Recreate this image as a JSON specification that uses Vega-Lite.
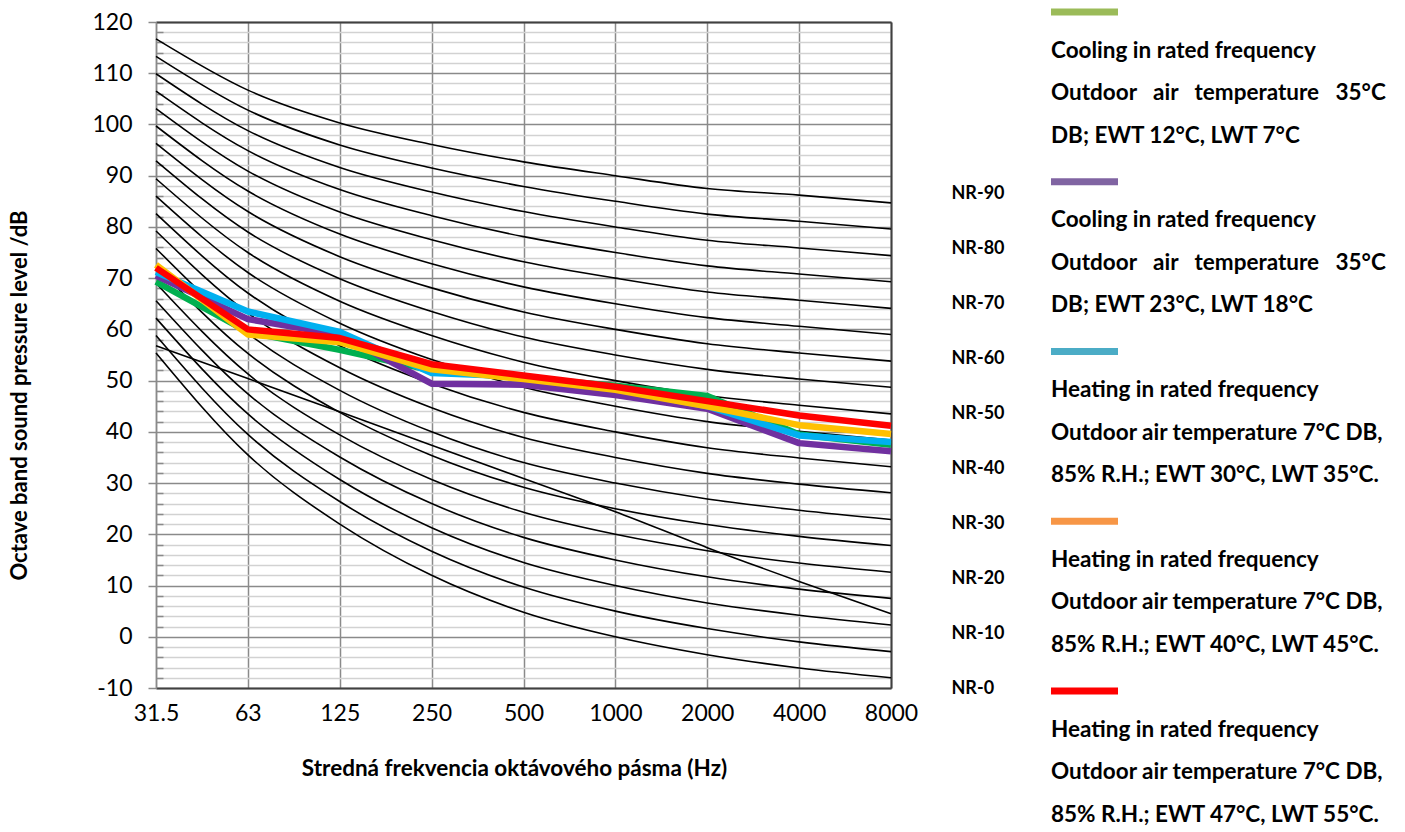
{
  "$schema": "https://vega.github.io/schema/vega-lite/v6.json",
  "background": "white",
  "padding": {"left": 8, "top": 8, "right": 0, "bottom": 0},
  "config": {"view": {"stroke": null}, "font": "Lato"},
  "spacing": 42,
  "resolve": {"scale": {"color": "independent"}},
  "datasets": {
    "nr": [
      {"s":"NR-0","f":"31.5","v":55.4},{"s":"NR-0","f":"63","v":35.5},{"s":"NR-0","f":"125","v":22.0},{"s":"NR-0","f":"250","v":12.0},{"s":"NR-0","f":"500","v":4.8},{"s":"NR-0","f":"1000","v":0},{"s":"NR-0","f":"2000","v":-3.5},{"s":"NR-0","f":"4000","v":-6.1},{"s":"NR-0","f":"8000","v":-8.0},
      {"s":"NR-5","f":"31.5","v":58.8},{"s":"NR-5","f":"63","v":39.5},{"s":"NR-5","f":"125","v":26.4},{"s":"NR-5","f":"250","v":16.7},{"s":"NR-5","f":"500","v":9.7},{"s":"NR-5","f":"1000","v":5},{"s":"NR-5","f":"2000","v":1.6},{"s":"NR-5","f":"4000","v":-1.0},{"s":"NR-5","f":"8000","v":-2.9},
      {"s":"NR-10","f":"31.5","v":62.2},{"s":"NR-10","f":"63","v":43.5},{"s":"NR-10","f":"125","v":30.7},{"s":"NR-10","f":"250","v":21.3},{"s":"NR-10","f":"500","v":14.5},{"s":"NR-10","f":"1000","v":10},{"s":"NR-10","f":"2000","v":6.6},{"s":"NR-10","f":"4000","v":4.2},{"s":"NR-10","f":"8000","v":2.3},
      {"s":"NR-15","f":"31.5","v":65.6},{"s":"NR-15","f":"63","v":47.4},{"s":"NR-15","f":"125","v":35.1},{"s":"NR-15","f":"250","v":26.0},{"s":"NR-15","f":"500","v":19.4},{"s":"NR-15","f":"1000","v":15},{"s":"NR-15","f":"2000","v":11.7},{"s":"NR-15","f":"4000","v":9.3},{"s":"NR-15","f":"8000","v":7.5},
      {"s":"NR-20","f":"31.5","v":69.0},{"s":"NR-20","f":"63","v":51.3},{"s":"NR-20","f":"125","v":39.4},{"s":"NR-20","f":"250","v":30.7},{"s":"NR-20","f":"500","v":24.3},{"s":"NR-20","f":"1000","v":20},{"s":"NR-20","f":"2000","v":16.8},{"s":"NR-20","f":"4000","v":14.4},{"s":"NR-20","f":"8000","v":12.6},
      {"s":"NR-25","f":"31.5","v":72.4},{"s":"NR-25","f":"63","v":55.3},{"s":"NR-25","f":"125","v":43.8},{"s":"NR-25","f":"250","v":35.4},{"s":"NR-25","f":"500","v":29.2},{"s":"NR-25","f":"1000","v":25},{"s":"NR-25","f":"2000","v":21.9},{"s":"NR-25","f":"4000","v":19.6},{"s":"NR-25","f":"8000","v":17.8},
      {"s":"NR-30","f":"31.5","v":75.8},{"s":"NR-30","f":"63","v":59.2},{"s":"NR-30","f":"125","v":48.1},{"s":"NR-30","f":"250","v":40.0},{"s":"NR-30","f":"500","v":34.0},{"s":"NR-30","f":"1000","v":30},{"s":"NR-30","f":"2000","v":26.9},{"s":"NR-30","f":"4000","v":24.7},{"s":"NR-30","f":"8000","v":22.9},
      {"s":"NR-35","f":"31.5","v":79.2},{"s":"NR-35","f":"63","v":63.2},{"s":"NR-35","f":"125","v":52.5},{"s":"NR-35","f":"250","v":44.7},{"s":"NR-35","f":"500","v":38.9},{"s":"NR-35","f":"1000","v":35},{"s":"NR-35","f":"2000","v":31.9},{"s":"NR-35","f":"4000","v":29.8},{"s":"NR-35","f":"8000","v":28.1},
      {"s":"NR-40","f":"31.5","v":82.6},{"s":"NR-40","f":"63","v":67.1},{"s":"NR-40","f":"125","v":56.8},{"s":"NR-40","f":"250","v":49.4},{"s":"NR-40","f":"500","v":43.8},{"s":"NR-40","f":"1000","v":40},{"s":"NR-40","f":"2000","v":36.9},{"s":"NR-40","f":"4000","v":34.9},{"s":"NR-40","f":"8000","v":33.2},
      {"s":"NR-45","f":"31.5","v":86.0},{"s":"NR-45","f":"63","v":71.1},{"s":"NR-45","f":"125","v":61.2},{"s":"NR-45","f":"250","v":54.1},{"s":"NR-45","f":"500","v":48.7},{"s":"NR-45","f":"1000","v":45},{"s":"NR-45","f":"2000","v":42.0},{"s":"NR-45","f":"4000","v":40.1},{"s":"NR-45","f":"8000","v":38.4},
      {"s":"NR-50","f":"31.5","v":89.4},{"s":"NR-50","f":"63","v":75.0},{"s":"NR-50","f":"125","v":65.5},{"s":"NR-50","f":"250","v":58.8},{"s":"NR-50","f":"500","v":53.6},{"s":"NR-50","f":"1000","v":50},{"s":"NR-50","f":"2000","v":47.1},{"s":"NR-50","f":"4000","v":45.2},{"s":"NR-50","f":"8000","v":43.5},
      {"s":"NR-55","f":"31.5","v":92.9},{"s":"NR-55","f":"63","v":79.0},{"s":"NR-55","f":"125","v":69.9},{"s":"NR-55","f":"250","v":63.5},{"s":"NR-55","f":"500","v":58.5},{"s":"NR-55","f":"1000","v":55},{"s":"NR-55","f":"2000","v":52.2},{"s":"NR-55","f":"4000","v":50.3},{"s":"NR-55","f":"8000","v":48.7},
      {"s":"NR-60","f":"31.5","v":96.3},{"s":"NR-60","f":"63","v":83.0},{"s":"NR-60","f":"125","v":74.2},{"s":"NR-60","f":"250","v":68.1},{"s":"NR-60","f":"500","v":63.4},{"s":"NR-60","f":"1000","v":60},{"s":"NR-60","f":"2000","v":57.2},{"s":"NR-60","f":"4000","v":55.4},{"s":"NR-60","f":"8000","v":53.8},
      {"s":"NR-65","f":"31.5","v":99.7},{"s":"NR-65","f":"63","v":87.0},{"s":"NR-65","f":"125","v":78.6},{"s":"NR-65","f":"250","v":72.8},{"s":"NR-65","f":"500","v":68.3},{"s":"NR-65","f":"1000","v":65},{"s":"NR-65","f":"2000","v":62.3},{"s":"NR-65","f":"4000","v":60.6},{"s":"NR-65","f":"8000","v":59.0},
      {"s":"NR-70","f":"31.5","v":103.1},{"s":"NR-70","f":"63","v":90.9},{"s":"NR-70","f":"125","v":82.9},{"s":"NR-70","f":"250","v":77.5},{"s":"NR-70","f":"500","v":73.2},{"s":"NR-70","f":"1000","v":70},{"s":"NR-70","f":"2000","v":67.3},{"s":"NR-70","f":"4000","v":65.7},{"s":"NR-70","f":"8000","v":64.1},
      {"s":"NR-75","f":"31.5","v":106.5},{"s":"NR-75","f":"63","v":94.9},{"s":"NR-75","f":"125","v":87.3},{"s":"NR-75","f":"250","v":82.2},{"s":"NR-75","f":"500","v":78.1},{"s":"NR-75","f":"1000","v":75},{"s":"NR-75","f":"2000","v":72.4},{"s":"NR-75","f":"4000","v":70.8},{"s":"NR-75","f":"8000","v":69.3},
      {"s":"NR-80","f":"31.5","v":109.9},{"s":"NR-80","f":"63","v":98.8},{"s":"NR-80","f":"125","v":91.6},{"s":"NR-80","f":"250","v":86.8},{"s":"NR-80","f":"500","v":83.0},{"s":"NR-80","f":"1000","v":80},{"s":"NR-80","f":"2000","v":77.4},{"s":"NR-80","f":"4000","v":75.9},{"s":"NR-80","f":"8000","v":74.4},
      {"s":"NR-85","f":"31.5","v":113.3},{"s":"NR-85","f":"63","v":102.8},{"s":"NR-85","f":"125","v":96.0},{"s":"NR-85","f":"250","v":91.5},{"s":"NR-85","f":"500","v":87.9},{"s":"NR-85","f":"1000","v":85},{"s":"NR-85","f":"2000","v":82.5},{"s":"NR-85","f":"4000","v":81.1},{"s":"NR-85","f":"8000","v":79.6},
      {"s":"NR-90","f":"31.5","v":116.7},{"s":"NR-90","f":"63","v":106.7},{"s":"NR-90","f":"125","v":100.3},{"s":"NR-90","f":"250","v":96.1},{"s":"NR-90","f":"500","v":92.7},{"s":"NR-90","f":"1000","v":90},{"s":"NR-90","f":"2000","v":87.5},{"s":"NR-90","f":"4000","v":86.2},{"s":"NR-90","f":"8000","v":84.7},
      {"s":"Reference","f":"31.5","v":56.8},{"s":"Reference","f":"63","v":50.4},{"s":"Reference","f":"125","v":43.9},{"s":"Reference","f":"250","v":37.4},{"s":"Reference","f":"500","v":30.9},{"s":"Reference","f":"1000","v":24.4},{"s":"Reference","f":"2000","v":17.4},{"s":"Reference","f":"4000","v":10.8},{"s":"Reference","f":"8000","v":4.5}
    ],
    "meas": [
      {"s":"Cooling EWT 12°C / LWT 7°C","f":"31.5","v":69.3},{"s":"Cooling EWT 12°C / LWT 7°C","f":"63","v":59.5},{"s":"Cooling EWT 12°C / LWT 7°C","f":"125","v":56.0},{"s":"Cooling EWT 12°C / LWT 7°C","f":"250","v":52.0},{"s":"Cooling EWT 12°C / LWT 7°C","f":"500","v":50.5},{"s":"Cooling EWT 12°C / LWT 7°C","f":"1000","v":49.0},{"s":"Cooling EWT 12°C / LWT 7°C","f":"2000","v":47.0},{"s":"Cooling EWT 12°C / LWT 7°C","f":"4000","v":39.5},{"s":"Cooling EWT 12°C / LWT 7°C","f":"8000","v":37.5},
      {"s":"Cooling EWT 23°C / LWT 18°C","f":"31.5","v":70.5},{"s":"Cooling EWT 23°C / LWT 18°C","f":"63","v":62.0},{"s":"Cooling EWT 23°C / LWT 18°C","f":"125","v":59.0},{"s":"Cooling EWT 23°C / LWT 18°C","f":"250","v":49.4},{"s":"Cooling EWT 23°C / LWT 18°C","f":"500","v":49.2},{"s":"Cooling EWT 23°C / LWT 18°C","f":"1000","v":47.2},{"s":"Cooling EWT 23°C / LWT 18°C","f":"2000","v":44.5},{"s":"Cooling EWT 23°C / LWT 18°C","f":"4000","v":37.8},{"s":"Cooling EWT 23°C / LWT 18°C","f":"8000","v":36.2},
      {"s":"Heating EWT 30°C / LWT 35°C","f":"31.5","v":71.2},{"s":"Heating EWT 30°C / LWT 35°C","f":"63","v":63.5},{"s":"Heating EWT 30°C / LWT 35°C","f":"125","v":59.5},{"s":"Heating EWT 30°C / LWT 35°C","f":"250","v":51.5},{"s":"Heating EWT 30°C / LWT 35°C","f":"500","v":50.8},{"s":"Heating EWT 30°C / LWT 35°C","f":"1000","v":48.5},{"s":"Heating EWT 30°C / LWT 35°C","f":"2000","v":45.0},{"s":"Heating EWT 30°C / LWT 35°C","f":"4000","v":39.3},{"s":"Heating EWT 30°C / LWT 35°C","f":"8000","v":38.0},
      {"s":"Heating EWT 40°C / LWT 45°C","f":"31.5","v":72.6},{"s":"Heating EWT 40°C / LWT 45°C","f":"63","v":59.0},{"s":"Heating EWT 40°C / LWT 45°C","f":"125","v":57.5},{"s":"Heating EWT 40°C / LWT 45°C","f":"250","v":52.2},{"s":"Heating EWT 40°C / LWT 45°C","f":"500","v":50.3},{"s":"Heating EWT 40°C / LWT 45°C","f":"1000","v":48.2},{"s":"Heating EWT 40°C / LWT 45°C","f":"2000","v":45.0},{"s":"Heating EWT 40°C / LWT 45°C","f":"4000","v":41.3},{"s":"Heating EWT 40°C / LWT 45°C","f":"8000","v":39.6},
      {"s":"Heating EWT 47°C / LWT 55°C","f":"31.5","v":72.0},{"s":"Heating EWT 47°C / LWT 55°C","f":"63","v":60.0},{"s":"Heating EWT 47°C / LWT 55°C","f":"125","v":58.3},{"s":"Heating EWT 47°C / LWT 55°C","f":"250","v":53.2},{"s":"Heating EWT 47°C / LWT 55°C","f":"500","v":51.0},{"s":"Heating EWT 47°C / LWT 55°C","f":"1000","v":48.8},{"s":"Heating EWT 47°C / LWT 55°C","f":"2000","v":46.0},{"s":"Heating EWT 47°C / LWT 55°C","f":"4000","v":43.2},{"s":"Heating EWT 47°C / LWT 55°C","f":"8000","v":41.2}
    ],
    "nrlab": [
      {"nr":0,"label":"NR-0"},{"nr":10,"label":"NR-10"},{"nr":20,"label":"NR-20"},{"nr":30,"label":"NR-30"},{"nr":40,"label":"NR-40"},{"nr":50,"label":"NR-50"},{"nr":60,"label":"NR-60"},{"nr":70,"label":"NR-70"},{"nr":80,"label":"NR-80"},{"nr":90,"label":"NR-90"}
    ],
    "legend": [
      {"entry":1,"line":0,"s":"Cooling EWT 12°C / LWT 7°C"},
      {"entry":1,"line":1,"text":"Cooling in rated frequency"},
      {"entry":1,"line":2,"text":"Outdoor\u00a0\u00a0\u00a0air\u00a0\u00a0\u00a0temperature\u00a0\u00a0\u00a035°C"},
      {"entry":1,"line":3,"text":"DB; EWT 12°C, LWT 7°C"},
      {"entry":2,"line":0,"s":"Cooling EWT 23°C / LWT 18°C"},
      {"entry":2,"line":1,"text":"Cooling in rated frequency"},
      {"entry":2,"line":2,"text":"Outdoor\u00a0\u00a0\u00a0air\u00a0\u00a0\u00a0temperature\u00a0\u00a0\u00a035°C"},
      {"entry":2,"line":3,"text":"DB; EWT 23°C, LWT 18°C"},
      {"entry":3,"line":0,"s":"Heating EWT 30°C / LWT 35°C"},
      {"entry":3,"line":1,"text":"Heating in rated frequency"},
      {"entry":3,"line":2,"text":"Outdoor air temperature 7°C DB,"},
      {"entry":3,"line":3,"text":"85% R.H.; EWT 30°C, LWT 35°C."},
      {"entry":4,"line":0,"s":"Heating EWT 40°C / LWT 45°C"},
      {"entry":4,"line":1,"text":"Heating in rated frequency"},
      {"entry":4,"line":2,"text":"Outdoor air temperature 7°C DB,"},
      {"entry":4,"line":3,"text":"85% R.H.; EWT 40°C, LWT 45°C."},
      {"entry":5,"line":0,"s":"Heating EWT 47°C / LWT 55°C"},
      {"entry":5,"line":1,"text":"Heating in rated frequency"},
      {"entry":5,"line":2,"text":"Outdoor air temperature 7°C DB,"},
      {"entry":5,"line":3,"text":"85% R.H.; EWT 47°C, LWT 55°C."}
    ]
  },
  "hconcat": [
    {
      "width": 735,
      "height": 666,
      "resolve": {"scale": {"y": "independent"}, "axis": {"x": "independent", "y": "independent"}},
      "layer": [
        {
          "data": {"name": "nr"},
          "mark": {"type": "line", "color": "black", "strokeWidth": 1.6, "interpolate": "monotone"},
          "encoding": {
            "x": {"field": "f", "type": "ordinal",
                  "scale": {"type": "point", "padding": 0, "domain": ["31.5","63","125","250","500","1000","2000","4000","8000"]},
                  "axis": {"orient": "bottom", "labelAngle": 0, "grid": true, "gridColor": "#8a8a8a", "gridWidth": 1.5, "ticks": false,
                           "domainColor": "#404040", "domainWidth": 2, "labelFont": "Lato", "labelFontSize": 23, "labelColor": "black", "labelPadding": 14,
                           "title": "Stredná frekvencia oktávového pásma (Hz)", "titleFont": "Lato", "titleFontSize": 22.5, "titleFontWeight": "bold", "titleColor": "black", "titlePadding": 32, "titleX": 358}},
            "y": {"field": "v", "type": "quantitative",
                  "scale": {"domain": [-10, 120], "nice": false, "zero": false},
                  "axis": {"orient": "left", "values": [-10,0,10,20,30,40,50,60,70,80,90,100,110,120], "labelExpr": "'' + datum.value", "grid": true, "gridColor": "#8a8a8a", "gridWidth": 1.5,
                           "domainColor": "#8a8a8a", "domainWidth": 1.5, "tickColor": "#8a8a8a", "tickSize": 8, "tickWidth": 1.5,
                           "labelFont": "Lato", "labelFontSize": 23, "labelColor": "black", "labelPadding": 16, "labelFlush": false, "labelOverlap": false,
                           "title": "Octave band sound pressure level /dB", "titleFont": "Lato", "titleFontSize": 22, "titleFontWeight": "bold", "titleColor": "black", "titlePadding": 60, "titleY": 373}},
            "detail": {"field": "s"}
          }
        },
        {
          "data": {"name": "meas"},
          "mark": {"type": "line", "strokeWidth": 6.5, "strokeJoin": "round"},
          "encoding": {
            "x": {"field": "f", "type": "ordinal",
                  "axis": {"orient": "top", "labels": false, "ticks": false, "grid": false, "domain": true, "domainColor": "#404040", "domainWidth": 2, "minExtent": 8, "title": null}},
            "y": {"field": "v", "type": "quantitative",
                  "scale": {"domain": [-10, 120], "nice": false, "zero": false},
                  "axis": {"orient": "left", "values": [-8,-6,-4,-2,2,4,6,8,12,14,16,18,22,24,26,28,32,34,36,38,42,44,46,48,52,54,56,58,62,64,66,68,72,74,76,78,82,84,86,88,92,94,96,98,102,104,106,108,112,114,116,118],
                           "grid": true, "gridColor": "#d2d2d2", "gridWidth": 1.6, "labels": false, "domain": false, "ticks": true, "tickSize": -7, "tickColor": "#8a8a8a", "tickWidth": 1.5, "title": null}},
            "color": {"field": "s", "type": "nominal",
                      "scale": {"domain": ["Cooling EWT 12°C / LWT 7°C","Cooling EWT 23°C / LWT 18°C","Heating EWT 30°C / LWT 35°C","Heating EWT 40°C / LWT 45°C","Heating EWT 47°C / LWT 55°C"],
                                "range": ["#00B050","#7030A0","#00B0F0","#FFC000","#FF0000"]},
                      "legend": null}
          }
        },
        {
          "data": {"name": "nrlab"},
          "mark": {"type": "text", "opacity": 0},
          "encoding": {
            "y": {"field": "nr", "type": "quantitative",
                  "scale": {"domain": [0, 121.3], "nice": false, "zero": false},
                  "axis": {"orient": "right", "values": [0,10,20,30,40,50,60,70,80,90], "labelExpr": "'NR-' + datum.value",
                           "ticks": false, "grid": false, "domain": true, "domainColor": "#404040", "domainWidth": 2,
                           "labelFont": "Lato", "labelFontSize": 18, "labelFontWeight": "bold", "labelColor": "black", "labelPadding": 60,
                           "labelFlush": false, "labelOverlap": false, "labelBound": false, "title": null}},
            "text": {"field": "label"}
          }
        }
      ]
    },
    {
      "data": {"name": "legend"},
      "facet": {"row": {"field": "entry", "type": "ordinal", "header": {"labels": false, "title": null}}},
      "spacing": {"row": 41.75},
      "bounds": "flush",
      "spec": {
        "width": 345,
        "height": 127.5,
        "layer": [
          {
            "transform": [{"filter": "datum.line == 0"}],
            "mark": {"type": "rule", "strokeWidth": 7},
            "encoding": {
              "x": {"datum": 0, "type": "quantitative", "scale": {"domain": [0, 345], "nice": false, "zero": false}, "axis": null},
              "x2": {"datum": 67},
              "y": {"field": "line", "type": "ordinal", "scale": {"type": "point", "padding": 0, "domain": [0,1,2,3], "range": [-10, 117.5]}, "axis": null},
              "color": {"field": "s", "type": "nominal",
                        "scale": {"domain": ["Cooling EWT 12°C / LWT 7°C","Cooling EWT 23°C / LWT 18°C","Heating EWT 30°C / LWT 35°C","Heating EWT 40°C / LWT 45°C","Heating EWT 47°C / LWT 55°C"],
                                  "range": ["#9BBB59","#8064A2","#4BACC6","#F79646","#FF0000"]},
                        "legend": null}
            }
          },
          {
            "transform": [{"filter": "datum.line > 0"}],
            "mark": {"type": "text", "align": "left", "baseline": "middle", "font": "Lato", "fontSize": 22.5, "fontWeight": "bold", "color": "black", "dy": -4},
            "encoding": {
              "x": {"datum": 0, "type": "quantitative"},
              "y": {"field": "line", "type": "ordinal"},
              "text": {"field": "text"}
            }
          }
        ]
      }
    }
  ]
}
